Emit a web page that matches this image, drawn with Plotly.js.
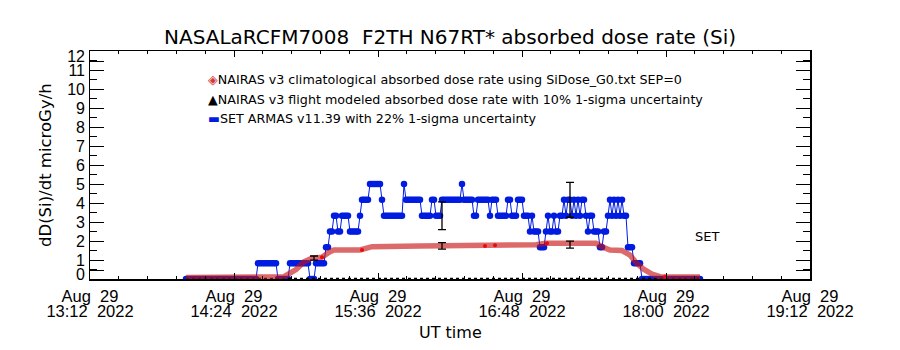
<!DOCTYPE html>
<html><head><meta charset="utf-8">
<script src="https://cdn.plot.ly/plotly-3.0.1.min.js"></script>
<style>html,body{margin:0;padding:0;background:#fff;}#chart{width:900px;height:350px;}</style>
</head><body><div id="chart"></div>
<script>
const DAY = '2022-08-29 ';

// SET ARMAS v11.39 absorbed dose rate (microGy/h), one sample per minute starting 14:00 UT
const setStartMinute = 14 * 60;
const setValues = [
  0,0,0,0,0,0,0,0,0,0,
  0,0,0,0,0,0,0,0,0,0,
  0,0,0,0,0,0,0,0,0,0,
  0,0,0,0,0,0,0.83,0.83,0.83,0.83,
  0.83,0.83,0.83,0.83,0.83,0.83,0,0,0,0,
  0,0,0.83,0.83,0.83,0.83,0.83,0.83,0.83,0.83,
  0.83,0.83,0,0,0,0.83,0.83,0.83,0.83,0.83,
  1.67,1.67,2.50,2.50,3.33,3.33,2.50,2.50,3.33,3.33,
  3.33,3.33,2.50,2.50,2.50,2.50,2.50,3.33,4.17,4.17,
  4.17,4.17,5.00,5.00,5.00,5.00,5.00,5.00,4.17,3.33,
  3.33,3.33,3.33,3.33,3.33,3.33,3.33,3.33,3.33,5.00,
  4.17,4.17,4.17,4.17,4.17,4.17,4.17,4.17,3.33,3.33,
  3.33,3.33,3.33,4.17,4.17,3.33,3.33,3.33,4.17,4.17,
  4.17,4.17,4.17,4.17,4.17,4.17,4.17,4.17,5.00,4.17,
  4.17,4.17,4.17,4.17,3.33,3.33,4.17,4.17,4.17,4.17,
  4.17,4.17,3.33,4.17,4.17,4.17,3.33,3.33,3.33,3.33,
  3.33,4.17,4.17,3.33,3.33,3.33,4.17,4.17,4.17,3.33,
  3.33,3.33,2.50,3.33,2.50,2.50,2.50,1.67,1.67,1.67,
  2.50,3.33,2.50,2.50,3.33,2.50,2.50,3.33,3.33,4.17,
  3.33,4.17,4.17,3.33,4.17,3.33,4.17,3.33,4.17,4.17,
  3.33,2.50,3.33,3.33,2.50,2.50,2.50,1.67,1.67,2.50,
  2.50,3.33,4.17,3.33,4.17,3.33,4.17,3.33,4.17,3.33,
  3.33,1.67,1.67,1.67,0.83,0.83,0.83,0.83,0,0,
  0,0,0,0,0,0,0,0,0,0,
  0,0,0,0,0,0,0,0,0,0,
  0,0,0,0,0,0,0,0
];
const setErrTimes = ['16:08', '17:12'];
const setErrValues = [3.33, 4.17];
const setErrSigma = [0.73, 0.92];

// NAIRAS v3 climatological absorbed dose rate (SiDose_G0.txt, SEP=0)
const climTimes = ['14:00','14:45','14:49','14:55','14:59','15:03','15:08','15:12','15:14','15:27','15:30','15:33','15:57','16:28','16:34','16:55','17:00','17:25','17:28','17:32','17:38','17:42','17:45','17:49','17:53','17:57','18:17'];
const climValues = [0.08,0.10,0.12,0.50,0.90,1.10,1.15,1.44,1.53,1.53,1.60,1.70,1.74,1.74,1.80,1.80,1.88,1.88,1.70,1.53,1.50,1.26,0.87,0.50,0.26,0.12,0.10];
const climDotTimes = ['15:08','15:28','16:29:30','16:34:30','17:00:30','17:59:30'];
const climDotValues = [1.15,1.53,1.74,1.77,1.88,0.12];

// NAIRAS v3 flight modeled absorbed dose rate, 10% 1-sigma
const flightBaseTimes = ['14:00','18:17'];
const flightBaseValues = [0, 0];
const flightTimes = ['15:04','16:08','17:12'];
const flightValues = [1.10, 1.74, 1.81];
const flightSigma = [0.11, 0.17, 0.18];

// axis labels
const yTickText = ['0','1','2','3','4','5','6','7','8','9','10','11','12'];
const yTickMarks = [0.47,1,2,3,4,5,6,7,8,9,10,11,11.45];
const yLabelPos = [0.25,1,2,3,4,5,6,7,8,9,10,11,11.7];

function stamp(min) {
  const h = Math.floor(min / 60), m = min % 60;
  return DAY + String(h).padStart(2,'0') + ':' + String(m).padStart(2,'0') + ':00';
}
const setTimes = setValues.map((v, k) => stamp(setStartMinute + k));
const at = t => DAY + t;

const BLUE = 'rgb(0,28,225)';
const NB = '\u00a0';
const tickFont = {family: 'Liberation Sans', size: 16.5, color: '#000'};
const txtFont = {family: 'DejaVu Sans', size: 16, color: '#000'};
const xr = [at('13:12'), at('19:12')];

const traces = [
  {x: setTimes, y: setValues, mode: 'lines+markers', name: 'SET',
   line: {color: BLUE, width: 1}, marker: {color: BLUE, size: 6.5, symbol: 'circle'}, showlegend: false},
  {x: flightBaseTimes.map(at), y: flightBaseValues, mode: 'lines', showlegend: false,
   line: {color: '#000', width: 2.5, dash: 'dot'}},
  {x: climTimes.map(at), y: climValues, mode: 'lines', showlegend: false,
   line: {color: 'rgba(200,15,15,0.62)', width: 5.5}},
  {x: climDotTimes.map(at), y: climDotValues, mode: 'markers', showlegend: false,
   marker: {color: 'rgb(235,10,10)', size: 4}},
  {x: flightTimes.map(at), y: flightValues, mode: 'markers', showlegend: false,
   marker: {color: 'rgba(0,0,0,0)', size: 2},
   error_y: {type: 'data', array: flightSigma, color: '#000', thickness: 1.3, width: 4}},
  {x: setErrTimes.map(at), y: setErrValues, mode: 'markers', showlegend: false,
   marker: {color: 'rgba(0,0,0,0)', size: 2},
   error_y: {type: 'data', array: setErrSigma, color: '#000', thickness: 1.3, width: 4}},
  {x: [null], y: [null], xaxis: 'x2', yaxis: 'y2', showlegend: false, hoverinfo: 'skip'}
];

const layout = {
  width: 900, height: 350,
  margin: {l: 90, r: 90, t: 51, b: 71},
  paper_bgcolor: '#fff', plot_bgcolor: '#fff',
  showlegend: false,
  title: {text: 'NASALaRCFM7008' + NB + NB + 'F2TH N67RT* absorbed dose rate (Si)',
          font: {family: 'DejaVu Sans', size: 20, color: '#000'},
          x: 0.5, xref: 'paper', xanchor: 'center', y: 0.893, yref: 'container', yanchor: 'middle'},
  xaxis: {type: 'date', range: xr, tick0: at('13:12'), dtick: 4320000,
          tickformat: '%H:%M' + NB + NB + '%Y', tickfont: tickFont, ticklabelstandoff: 17,
          ticks: 'inside', ticklen: 6, tickwidth: 1, tickcolor: '#000',
          minor: {tick0: at('13:12'), dtick: 864000, ticks: 'inside', ticklen: 3, tickwidth: 1, tickcolor: '#000'},
          showline: true, linecolor: '#000', linewidth: 1.5, mirror: 'ticks',
          showgrid: false, zeroline: false, fixedrange: true},
  xaxis2: {type: 'date', overlaying: 'x', anchor: 'y', side: 'bottom', range: xr,
           tick0: at('13:12'), dtick: 4320000, tickformat: '%b' + NB + NB + '%d',
           tickfont: tickFont, ticklabelstandoff: 5, ticks: '', showline: false,
           showgrid: false, zeroline: false},
  yaxis: {range: [0, 12], tickmode: 'array', tickvals: yTickMarks, showticklabels: false,
          ticks: 'inside', ticklen: 14, tickwidth: 1, tickcolor: '#000',
          minor: {tickmode: 'linear', tick0: 0, dtick: 0.5, ticks: 'inside', ticklen: 7, tickwidth: 1, tickcolor: '#000'},
          showline: true, linecolor: '#000', linewidth: 1.5, mirror: 'ticks',
          showgrid: false, zeroline: false},
  yaxis2: {overlaying: 'y', anchor: 'x', side: 'left', range: [0, 12], tickmode: 'array',
           tickvals: yLabelPos, ticktext: yTickText, tickfont: {family: 'Liberation Sans', size: 16, color: '#000'},
           ticks: '', showline: false, showgrid: false, zeroline: false, ticklabelstandoff: 4},
  annotations: [
    {xref: 'paper', yref: 'paper', x: 0.161, y: 0.873, xanchor: 'left', yanchor: 'middle', showarrow: false,
     font: {family: 'DejaVu Sans', size: 12.7, color: '#000'},
     text: '<span style="color:#d23c3c">◈</span>NAIRAS v3 climatological absorbed dose rate using SiDose_G0.txt SEP=0'},
    {xref: 'paper', yref: 'paper', x: 0.161, y: 0.789, xanchor: 'left', yanchor: 'middle', showarrow: false,
     font: {family: 'DejaVu Sans', size: 12.7, color: '#000'},
     text: '<span style="color:#000">▲</span>NAIRAS v3 flight modeled absorbed dose rate with 10% 1-sigma uncertainty'},
    {xref: 'paper', yref: 'paper', x: 0.161, y: 0.706, xanchor: 'left', yanchor: 'middle', showarrow: false,
     font: {family: 'DejaVu Sans', size: 12.7, color: '#000'},
     text: '<span style="color:' + BLUE + '">▬</span>SET ARMAS v11.39 with 22% 1-sigma uncertainty'},
    {xref: 'x', yref: 'y', x: at('18:20:15'), y: 2.23, xanchor: 'center', yanchor: 'middle', showarrow: false,
     font: {family: 'DejaVu Sans', size: 13, color: '#000'}, text: 'SET'},
    {xref: 'paper', yref: 'paper', x: 0.5, y: -0.2325, xanchor: 'center', yanchor: 'middle', showarrow: false,
     font: txtFont, text: 'UT time'},
    {xref: 'paper', yref: 'paper', x: -0.0625, y: 0.5, xanchor: 'center', yanchor: 'middle', showarrow: false,
     textangle: -90, font: {family: 'DejaVu Sans', size: 16.5, color: '#000'}, text: 'dD(Si)/dt microGy/h'}
  ]
};

Plotly.newPlot('chart', traces, layout, {displayModeBar: false, staticPlot: true});
</script>
</body></html>
